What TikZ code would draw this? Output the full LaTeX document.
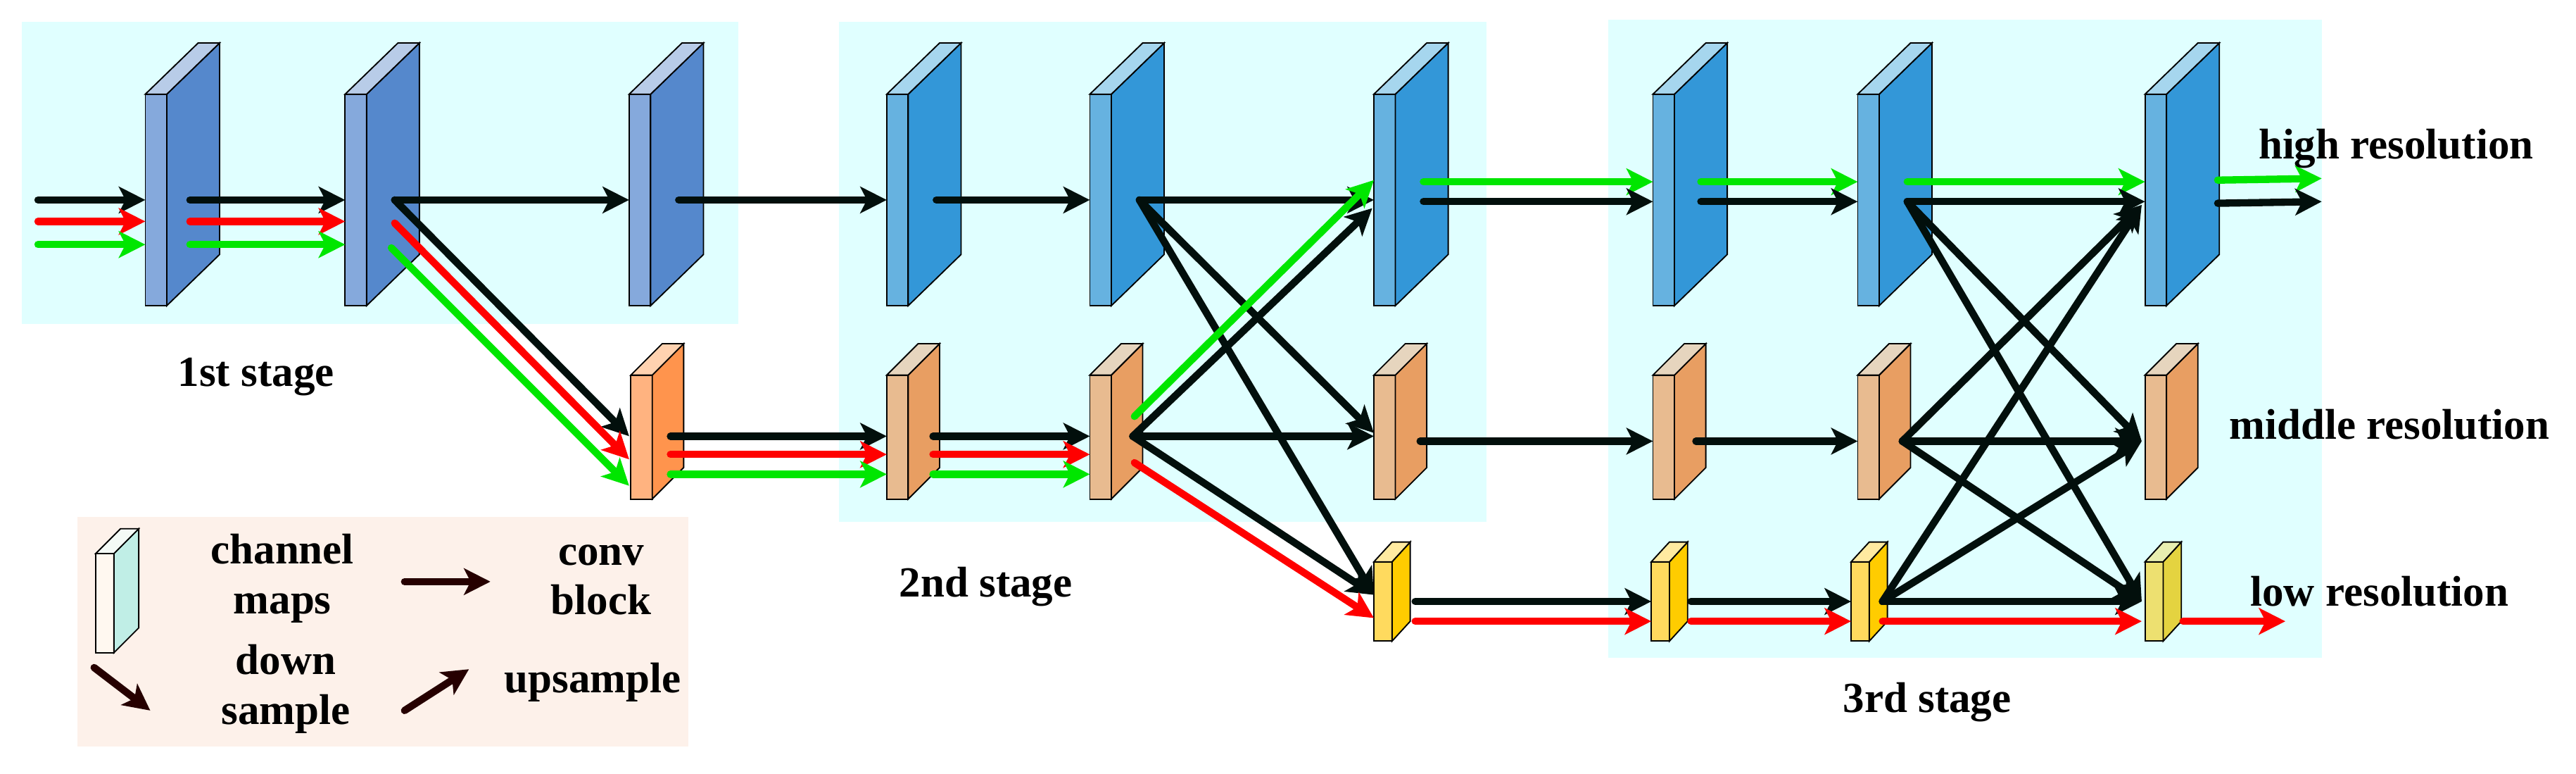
\documentclass[tikz,border=0pt]{standalone}
\usepackage{fontspec}
\setmainfont{Liberation Serif}
\usetikzlibrary{arrows.meta}
\definecolor{bgc}{HTML}{E0FFFF}
\definecolor{lgc}{HTML}{FDF1EA}
\definecolor{gr}{HTML}{00E600}
\definecolor{rd}{HTML}{FF0000}
\definecolor{bk}{HTML}{020F0C}
\definecolor{aF}{HTML}{85A9DC}\definecolor{aS}{HTML}{5588CC}\definecolor{aT}{HTML}{B8CCE8}
\definecolor{bF}{HTML}{66B2E0}\definecolor{bS}{HTML}{3397D8}\definecolor{bT}{HTML}{A6D6EE}
\definecolor{oF}{HTML}{FFB380}\definecolor{oS}{HTML}{FF944D}\definecolor{oT}{HTML}{FFD2B0}
\definecolor{pF}{HTML}{E8BB90}\definecolor{pS}{HTML}{E89E62}\definecolor{pT}{HTML}{E6D5BE}
\definecolor{yF}{HTML}{FFDA5E}\definecolor{yS}{HTML}{FFCC00}\definecolor{yT}{HTML}{FFEAA0}
\definecolor{zF}{HTML}{EDE070}\definecolor{zS}{HTML}{E4D340}\definecolor{zT}{HTML}{E8EEB0}
\definecolor{wF}{HTML}{FFF8F0}\definecolor{wS}{HTML}{C0EEE6}\definecolor{wT}{HTML}{F4FAF6}
\newcommand{\blk}[9]{% x, ytop, ybot, w, dx, dy, front, side, top
  \filldraw[draw=black,line width=0.4pt,fill=#7] (#1,#2) rectangle ({#1+#4},#3);
  \filldraw[draw=black,line width=0.4pt,fill=#8] ({#1+#4},#2) -- ({#1+#4+#5},{#2-#6}) -- ({#1+#4+#5},{#3-#6}) -- ({#1+#4},#3) -- cycle;
  \filldraw[draw=black,line width=0.4pt,fill=#9] (#1,#2) -- ({#1+#5},{#2-#6}) -- ({#1+#4+#5},{#2-#6}) -- ({#1+#4},#2) -- cycle;}
\newcommand{\hiB}[4]{\blk{#1}{57}{185}{13}{32}{31}{#2}{#3}{#4}}
\newcommand{\miB}[4]{\blk{#1}{227}{302}{13}{19}{19}{#2}{#3}{#4}}
\newcommand{\loB}[4]{\blk{#1}{340}{388}{11}{11}{12}{#2}{#3}{#4}}
\tikzset{ar/.style={line width=2.2pt,line cap=round,-{Stealth[length=8pt,width=8pt,inset=2pt]}},
  K/.style={ar,draw=bk},R/.style={ar,draw=rd},G/.style={ar,draw=gr},
  txt/.style={font=\fontsize{13}{15}\selectfont\bfseries,inner sep=0pt,align=center}}
\begin{document}
\begin{tikzpicture}[x=0.5pt,y=-0.5pt]
\useasboundingbox (0,0) rectangle (1560,468);
\fill[bgc] (13,13) rectangle (447,196);
\fill[bgc] (508,13) rectangle (900,316);
\fill[bgc] (974,12) rectangle (1406,398);
\fill[lgc] (47,313) rectangle (417,452);
% blocks
\hiB{88}{aF}{aS}{aT}\hiB{209}{aF}{aS}{aT}\hiB{381}{aF}{aS}{aT}
\hiB{537}{bF}{bS}{bT}\hiB{660}{bF}{bS}{bT}\hiB{832}{bF}{bS}{bT}
\hiB{1001}{bF}{bS}{bT}\hiB{1125}{bF}{bS}{bT}\hiB{1299}{bF}{bS}{bT}
\miB{382}{oF}{oS}{oT}
\miB{537}{pF}{pS}{pT}\miB{660}{pF}{pS}{pT}\miB{832}{pF}{pS}{pT}
\miB{1001}{pF}{pS}{pT}\miB{1125}{pF}{pS}{pT}\miB{1299}{pF}{pS}{pT}
\loB{832}{yF}{yS}{yT}\loB{1000}{yF}{yS}{yT}\loB{1121}{yF}{yS}{yT}\loB{1299}{zF}{zS}{zT}
\blk{58}{335}{395}{11}{15}{15}{wF}{wS}{wT}
% stage 1
\draw[K] (23,121) -- (88,121); \draw[R] (23,134) -- (88,134); \draw[G] (23,148) -- (88,148);
\draw[K] (115,121) -- (209,121); \draw[R] (115,134) -- (209,134); \draw[G] (115,148) -- (209,148);
\draw[K] (239,121) -- (381,121);
\draw[K] (239,121) -- (381,264); \draw[R] (239,135) -- (381,278); \draw[G] (237,150) -- (381,294);
\draw[K] (411,121) -- (537,121);
% stage 2
\draw[K] (567,121) -- (660,121);
\draw[K] (406,264) -- (537,264); \draw[R] (406,275) -- (537,275); \draw[G] (406,287) -- (537,287);
\draw[K] (565,264) -- (660,264); \draw[R] (565,275) -- (660,275); \draw[G] (565,287) -- (660,287);
\draw[K] (690,121) -- (832,121);
\draw[K] (690,121) -- (832,262);
\draw[K] (690,121) -- (832,360);
\draw[G] (687,252) -- (832,109);
\draw[K] (686,264) -- (831,126);
\draw[K] (686,264) -- (832,264);
\draw[K] (686,264) -- (832,360);
\draw[R] (687,280) -- (832,374);
% stage 3
\draw[G] (862,110) -- (1001,110); \draw[K] (862,122) -- (1001,122);
\draw[G] (1030,110) -- (1125,110); \draw[K] (1030,122) -- (1125,122);
\draw[G] (1155,110) -- (1299,110); \draw[K] (1155,122) -- (1299,122);
\draw[K] (1155,122) -- (1297,267); \draw[K] (1155,122) -- (1297,364);
\draw[K] (860,267) -- (1001,267); \draw[K] (1027,267) -- (1125,267);
\draw[K] (1152,267) -- (1297,124); \draw[K] (1152,267) -- (1297,267); \draw[K] (1152,267) -- (1297,364);
\draw[K] (857,364) -- (1000,364); \draw[R] (857,376) -- (1000,376);
\draw[K] (1024,364) -- (1121,364); \draw[R] (1024,376) -- (1121,376);
\draw[K] (1140,364) -- (1297,124); \draw[K] (1140,364) -- (1297,267); \draw[K] (1140,364) -- (1297,364);
\draw[R] (1140,376) -- (1297,376);
\draw[G] (1343,109) -- (1406,108); \draw[K] (1343,123) -- (1406,122);
\draw[R] (1322,376) -- (1384,376);
% labels
\node[txt] (s1) at (155,228) {1st stage};
\node[txt] (s2) at (597,355) {2nd stage};
\node[txt] (s3) at (1167,425) {3rd stage};
\node[txt] (hr) at (1451,90) {high resolution};
\node[txt] (mr) at (1447,257) {middle resolution};
\node[txt] (lr) at (1441,358) {low resolution};
% legend
\node[txt] (cm) at (171,350) {channel\\maps};
\node[txt] (cb) at (364,351) {conv\\block};
\node[txt] (ds) at (173,417) {down\\sample};
\node[txt] (us) at (359,413) {upsample};
\draw[K,draw=black!85!red] (245,352) -- (297,352);
\draw[K,draw=black!85!red] (57,404) -- (91,430);
\draw[K,draw=black!85!red] (245,430) -- (284,405);
\end{tikzpicture}
\end{document}
